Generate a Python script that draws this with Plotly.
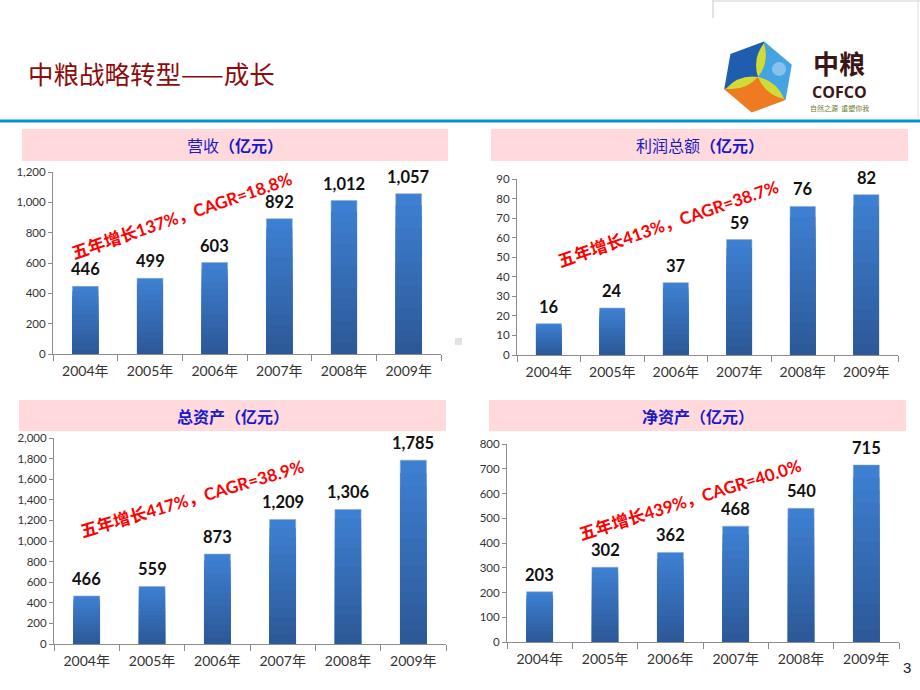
import math
import plotly.graph_objects as go

W, H = 920, 690

# ---------------- data ----------------
years = ["2004年", "2005年", "2006年", "2007年", "2008年", "2009年"]
revenue = [446, 499, 603, 892, 1012, 1057]
profit = [16, 24, 37, 59, 76, 82]
total_assets = [466, 559, 873, 1209, 1306, 1785]
net_assets = [203, 302, 362, 468, 540, 715]

header_names = ["营收", "利润总额", "总资产", "净资产"]
header_unit = "（亿元）"
cagr_texts = [
    "五年增长137%，CAGR=18.8%",
    "五年增长413%，CAGR=38.7%",
    "五年增长417%，CAGR=38.9%",
    "五年增长439%，CAGR=40.0%",
]
y_max = [1200, 90, 2000, 800]
y_dtick = [200, 10, 200, 100]
page_title = "中粮战略转型——成长"

series = [revenue, profit, total_assets, net_assets]

# ---------------- layout geometry (pixels) ----------------
# plot box: x0, x1, ytop, ybottom
boxes = [
    (53, 441, 172, 354),
    (517, 898, 179, 355),
    (54, 446, 438, 644),
    (507, 899, 444, 642),
]
headers = [
    (22, 448, 129, 161),
    (491, 908, 129, 161),
    (19, 446, 400, 431),
    (489, 906, 400, 431),
]
cagr_pos = [
    (182, 216, -19),
    (668, 223, -19),
    (192, 498, -16.5),
    (690, 499, -17.5),
]

NUM_FONT = "Lato, 'Noto Sans CJK SC', sans-serif"
CJK_FONT = "'Noto Sans CJK SC', sans-serif"
AXIS_COL = "#8C8C8C"

fig = go.Figure()

top_col = (0x3E, 0x80, 0xD4)
bot_col = (0x2C, 0x58, 0x96)
N = 14


def mix(f):
    return "rgb(%d,%d,%d)" % tuple(
        round(bot_col[i] + (top_col[i] - bot_col[i]) * f) for i in range(3)
    )


def px_x(x):
    return x / W


def px_y(y):
    return 1 - y / H


annotations = []
shapes = []

for k, vals in enumerate(series):
    n = k + 1
    xa = "x" if n == 1 else "x%d" % n
    ya = "y" if n == 1 else "y%d" % n
    # gradient bars (overlay of shrinking bars, darker toward bottom)
    for j in range(N, 0, -1):
        f = j / N
        fig.add_trace(
            go.Bar(
                x=years,
                y=[v * f for v in vals],
                xaxis=xa,
                yaxis=ya,
                width=0.4,
                marker=dict(
                    color=mix((j - 0.5) / N),
                    line=dict(width=1 if j == N else 0, color="rgba(150,170,200,0.6)"),
                ),
                hoverinfo="skip",
                showlegend=False,
            )
        )
    # value labels
    for yr, v in zip(years, vals):
        annotations.append(
            dict(
                x=yr, y=v, xref=xa, yref=ya,
                text="<b>%s</b>" % format(v, ","),
                showarrow=False, xanchor="center", yanchor="bottom", yshift=5,
                font=dict(family=NUM_FONT, size=16.5, color="#111111"),
            )
        )
    x0, x1, yt, yb = boxes[k]
    axkey = "xaxis" if n == 1 else "xaxis%d" % n
    aykey = "yaxis" if n == 1 else "yaxis%d" % n
    fig.update_layout(
        **{
            axkey: dict(
                domain=[px_x(x0), px_x(x1)],
                anchor=ya,
                type="category",
                range=[-0.5, 5.5],
                showline=True,
                linecolor=AXIS_COL,
                linewidth=1,
                ticks="outside",
                tickson="boundaries",
                ticklen=6,
                tickcolor=AXIS_COL,
                showgrid=False,
                tickfont=dict(family=NUM_FONT, size=14, color="#333333"),
                ticklabelstandoff=4,
                fixedrange=True,
                automargin=False,
            ),
            aykey: dict(
                domain=[px_y(yb), px_y(yt)],
                anchor=xa,
                range=[0, y_max[k]],
                dtick=y_dtick[k],
                tickformat=",d",
                showline=True,
                linecolor=AXIS_COL,
                linewidth=1,
                ticks="outside",
                ticklen=4,
                tickcolor=AXIS_COL,
                showgrid=False,
                zeroline=False,
                tickfont=dict(family=NUM_FONT, size=11.5, color="#333333"),
                fixedrange=True,
                automargin=False,
            ),
        }
    )
    # header
    hx0, hx1, hy0, hy1 = headers[k]
    shapes.append(dict(type="rect", xref="paper", yref="paper",
                       x0=px_x(hx0), x1=px_x(hx1), y0=px_y(hy1), y1=px_y(hy0),
                       fillcolor="#FFD9DB", line=dict(width=0), layer="below"))
    name = header_names[k] if k < 2 else "<b>%s</b>" % header_names[k]
    annotations.append(
        dict(x=px_x((hx0 + hx1) / 2), y=px_y((hy0 + hy1) / 2),
             xref="paper", yref="paper", showarrow=False,
             xanchor="center", yanchor="middle",
             text="%s<b>%s</b>" % (name, header_unit),
             font=dict(family=CJK_FONT, size=16, color="#1A1AC8"))
    )
    # CAGR label
    cx, cy, ang = cagr_pos[k]
    annotations.append(
        dict(x=px_x(cx), y=px_y(cy), xref="paper", yref="paper", showarrow=False,
             xanchor="center", yanchor="middle",
             text="<b>%s</b>" % cagr_texts[k], textangle=ang,
             font=dict(family=NUM_FONT, size=17, color="#FF0000"))
    )

# pixel-coordinate overlay axis for decorations
fig.update_layout(
    xaxis5=dict(domain=[0, 1], range=[0, W], visible=False, anchor="y5", fixedrange=True),
    yaxis5=dict(domain=[0, 1], range=[H, 0], visible=False, anchor="x5", fixedrange=True),
)
fig.add_trace(go.Scatter(x=[0], y=[0], xaxis="x5", yaxis="y5", mode="markers",
                         marker=dict(opacity=0), hoverinfo="skip", showlegend=False))


def P(x, y):
    return dict(xref="x5", yref="y5", x=x, y=y, xanchor="center", yanchor="middle")


# blue separator line
shapes.append(dict(type="line", xref="x5", yref="y5", x0=0, x1=W, y0=121, y1=121,
                   line=dict(color="#0096D6", width=3)))
# thin frame lines top-right
shapes.append(dict(type="line", xref="x5", yref="y5", x0=713, x1=W, y0=1, y1=1,
                   line=dict(color="#D0D0D0", width=1)))
shapes.append(dict(type="line", xref="x5", yref="y5", x0=713, x1=713, y0=0, y1=18,
                   line=dict(color="#C8C8C8", width=1)))
shapes.append(dict(type="line", xref="x5", yref="y5", x0=918, x1=918, y0=0, y1=118,
                   line=dict(color="#E0E0E0", width=1)))
# small grey square artefact
shapes.append(dict(type="rect", xref="x5", yref="y5", x0=455, x1=462, y0=338, y1=345,
                   fillcolor="#E2E2E2", line=dict(width=0)))

# ---- logo ----
cx, cy, R = 758, 77, 36
verts = []
for a in [-80, -20, 40, 100, 160, 220]:
    r = math.radians(a)
    verts.append((cx + R * math.cos(r), cy + R * math.sin(r)))


def poly(pts):
    return "M " + " L ".join("%.1f,%.1f" % p for p in pts) + " Z"


v = verts
shapes.append(dict(type="path", xref="x5", yref="y5",
                   path=poly([(cx, cy), v[4], v[5], v[0]]),
                   fillcolor="#1F5EAE", line=dict(width=0)))
shapes.append(dict(type="path", xref="x5", yref="y5",
                   path=poly([(cx, cy), v[0], v[1], v[2]]),
                   fillcolor="#45A3E2", line=dict(width=0)))
shapes.append(dict(type="path", xref="x5", yref="y5",
                   path=poly([(cx, cy), v[2], v[3], v[4]]),
                   fillcolor="#EE7A22", line=dict(width=0)))
# highlight
shapes.append(dict(type="circle", xref="x5", yref="y5", x0=772, x1=786, y0=62, y1=76,
                   fillcolor="rgba(255,255,255,0.35)", line=dict(width=0)))
# leaves
for idx in [0, 2, 4]:
    tx, ty = v[idx]
    ex, ey = cx + (tx - cx) * 0.95, cy + (ty - cy) * 0.95
    mx, my = (cx + ex) / 2, (cy + ey) / 2
    dx, dy = ex - cx, ey - cy
    L = math.hypot(dx, dy)
    nx, ny = -dy / L * 9, dx / L * 9
    path = "M %.1f,%.1f Q %.1f,%.1f %.1f,%.1f Q %.1f,%.1f %.1f,%.1f Z" % (
        cx, cy, mx + nx, my + ny, ex, ey, mx - nx, my - ny, cx, cy)
    shapes.append(dict(type="path", xref="x5", yref="y5", path=path,
                       fillcolor="#D2DA36", line=dict(width=0)))

annotations += [
    dict(**P(839, 62), text="<b>中粮</b>", showarrow=False,
         font=dict(family=CJK_FONT, size=26, color="#3A1717")),
    dict(**P(839, 92), text="<b>COFCO</b>", showarrow=False,
         font=dict(family="'Open Sans', sans-serif", size=16, color="#3A1717")),
    dict(**P(839, 108), text="自然之源  重塑你我", showarrow=False,
         font=dict(family=CJK_FONT, size=7, color="#6E7D2E")),
    # page title
    dict(xref="x5", yref="y5", x=26, y=72, xanchor="left", yanchor="middle",
         text=page_title, showarrow=False,
         font=dict(family=CJK_FONT, size=25.5, color="#8E0B0B")),
    # page number
    dict(**P(907, 667), text="3", showarrow=False,
         font=dict(family="'Liberation Sans', sans-serif", size=15, color="#222222")),
]

fig.update_layout(
    width=W, height=H,
    margin=dict(l=0, r=0, t=0, b=0, autoexpand=False),
    paper_bgcolor="white", plot_bgcolor="rgba(0,0,0,0)",
    barmode="overlay",
    bargap=0.6,
    shapes=shapes,
    annotations=annotations,
    showlegend=False,
)

fig.write_html(
    "out.html",
    config={"displayModeBar": False, "staticPlot": True},
    post_script="document.body.style.margin='0';document.body.style.padding='0';"
                "document.documentElement.style.overflow='hidden';",
)
